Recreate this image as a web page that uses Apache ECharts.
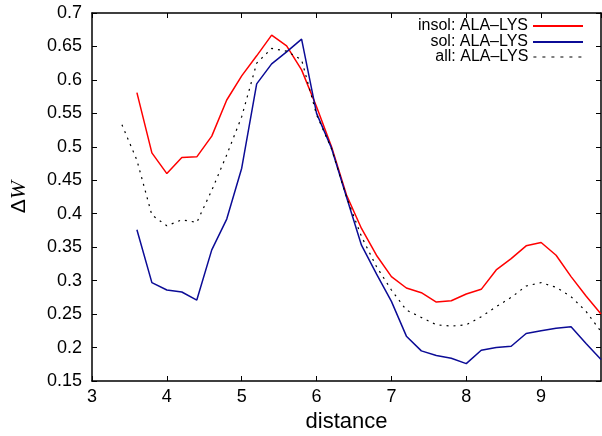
<!DOCTYPE html>
<html>
<head>
<meta charset="utf-8">
<script src="https://cdn.jsdelivr.net/npm/echarts@6/dist/echarts.min.js"></script>
<style>html,body{margin:0;padding:0;background:#fff;overflow:hidden}#c{width:602px;height:436px}</style>
</head>
<body>
<div id="c"></div>
<script>
var distInsol = [3.6,3.8,4.0,4.2,4.4,4.6,4.8,5.0,5.2,5.4,5.6,5.8,6.0,6.2,6.4,6.6,6.8,7.0,7.2,7.4,7.6,7.8,8.0,8.2,8.4,8.6,8.8,9.0,9.2,9.4,9.6,9.8];
var insol = [0.581,0.491,0.460,0.484,0.485,0.516,0.570,0.606,0.636,0.667,0.651,0.615,0.560,0.500,0.428,0.378,0.338,0.306,0.289,0.282,0.268,0.270,0.280,0.287,0.316,0.333,0.352,0.357,0.338,0.306,0.277,0.250];
var distSol = [3.6,3.8,4.0,4.2,4.4,4.6,4.8,5.0,5.2,5.4,5.6,5.8,6.0,6.2,6.4,6.6,6.8,7.0,7.2,7.4,7.6,7.8,8.0,8.2,8.4,8.6,8.8,9.0,9.2,9.4,9.6,9.8];
var sol = [0.376,0.297,0.286,0.283,0.271,0.346,0.392,0.468,0.594,0.624,0.642,0.661,0.550,0.498,0.425,0.353,0.310,0.269,0.217,0.195,0.188,0.184,0.176,0.196,0.200,0.202,0.221,0.225,0.229,0.231,0.206,0.182];
var distAll = [3.4,3.6,3.8,4.0,4.2,4.4,4.6,4.8,5.0,5.2,5.4,5.6,5.8,6.0,6.2,6.4,6.6,6.8,7.0,7.2,7.4,7.6,7.8,8.0,8.2,8.4,8.6,8.8,9.0,9.2,9.4,9.6,9.8];
var all = [0.533,0.480,0.398,0.382,0.391,0.387,0.435,0.488,0.545,0.625,0.647,0.643,0.630,0.548,0.497,0.425,0.366,0.321,0.286,0.256,0.245,0.234,0.232,0.234,0.246,0.261,0.275,0.292,0.297,0.290,0.276,0.254,0.224];
var names = ['insol: ALA\u2013LYS','sol: ALA\u2013LYS','all: ALA\u2013LYS'];
var xTicks = {min:3, max:9.8, interval:1};
var yTicks = {min:0.15, max:0.7, interval:0.05};

function pairs(xs, ys){ return xs.map(function(x,i){ return [x, ys[i]]; }); }

var font = '"Liberation Sans", Arial, Helvetica, sans-serif';
var axisLine = {show:true, lineStyle:{color:'#000', width:1.5}};
var tick = {show:true, inside:true, length:5, lineStyle:{color:'#000', width:1}};

var chart = echarts.init(document.getElementById('c'), null, {renderer:'canvas', width:602, height:436});
function legend(i, top, extra){
  var l = {
    data:[names[i]], right:18, top:top, orient:'vertical', align:'right',
    itemWidth:50, itemHeight:10, padding:0, selectedMode:false,
    itemStyle:{opacity:0},
    textStyle:{fontFamily:font, fontSize:16, color:'#000', lineHeight:16}
  };
  if (extra) l.lineStyle = extra;
  return l;
}
chart.setOption({
  animation:false,
  backgroundColor:'#fff',
  grid:{left:92, width:509, top:13, height:368, containLabel:false, outerBoundsMode:'none'},
  legend:[legend(0,18), legend(1,34), legend(2,49,{type:[3,6], width:1.2})],
  xAxis:[{
    type:'value', min:xTicks.min, max:xTicks.max, interval:xTicks.interval,
    axisLine:axisLine, axisTick:tick, splitLine:{show:false},
    axisLabel:{fontFamily:font, fontSize:18, color:'#000', margin:7, showMaxLabel:false},
    name:'distance', nameLocation:'middle', nameGap:29,
    nameTextStyle:{fontFamily:font, fontSize:22, color:'#000'}
  },{
    type:'value', position:'top', min:xTicks.min, max:xTicks.max, interval:xTicks.interval,
    axisLine:axisLine, axisTick:tick, splitLine:{show:false}, axisLabel:{show:false}
  }],
  yAxis:[{
    type:'value', min:yTicks.min, max:yTicks.max, interval:yTicks.interval,
    axisLine:axisLine, axisTick:tick, splitLine:{show:false},
    axisLabel:{fontFamily:font, fontSize:18, color:'#000', margin:10,
      formatter:function(v){ return String(+v.toFixed(2)); }},
    name:'{a|\u0394}{b|W}', nameLocation:'middle', nameGap:62,
    nameTextStyle:{rich:{
      a:{fontFamily:font, fontSize:21, color:'#000'},
      b:{fontFamily:'"Liberation Serif", "Times New Roman", serif', fontStyle:'italic', fontSize:22, color:'#000'}
    }}
  },{
    type:'value', position:'right', min:yTicks.min, max:yTicks.max, interval:yTicks.interval,
    axisLine:axisLine, axisTick:tick, splitLine:{show:false}, axisLabel:{show:false}
  }],
  series:[
    {name:names[0], type:'line', data:pairs(distInsol, insol), showSymbol:false, symbol:'none',
     lineStyle:{color:'#ff0000', width:1.5}, itemStyle:{color:'#ff0000'}},
    {name:names[1], type:'line', data:pairs(distSol, sol), showSymbol:false, symbol:'none',
     lineStyle:{color:'#0b0b96', width:1.5}, itemStyle:{color:'#0b0b96'}},
    {name:names[2], type:'line', data:pairs(distAll, all), showSymbol:false, symbol:'none',
     lineStyle:{color:'#000', width:1.2, type:[2,5]}, itemStyle:{color:'#000'}}
  ]
});
</script>
</body>
</html>
